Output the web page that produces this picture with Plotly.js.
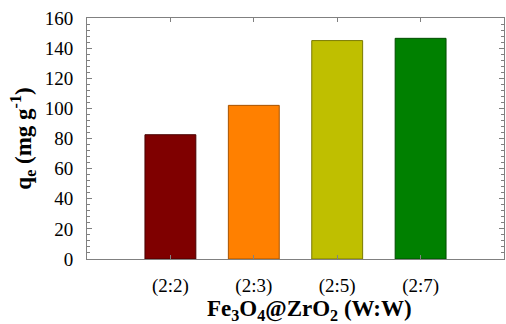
<!DOCTYPE html>
<html>
<head>
<meta charset="utf-8">
<script src="https://cdn.plot.ly/plotly-3.0.1.min.js"></script>
<style>html,body{margin:0;padding:0;background:#fff;}#chart{width:506px;height:324px;}</style>
</head>
<body>
<div id="chart"></div>
<script>
const categories = ["(2:2)", "(2:3)", "(2:5)", "(2:7)"];
const qeValues = [82.5, 102, 145, 146.5];
const barColors = ["#7f0000", "#ff8000", "#bfbf00", "#008000"];
const barEdges = ["#4a0000", "#a65300", "#7a7a00", "#004d00"];
const yTicks = [0, 20, 40, 60, 80, 100, 120, 140, 160];
const xTitle = "<b>Fe<sub>3</sub>O<sub>4</sub>@ZrO<sub>2</sub> (W:W)</b>";
const yTitle = "<b>q<sub>e</sub> (mg g<sup>-1</sup>)</b>";

const xIdx = categories.map((c, i) => i);

const trace = {
  type: "bar",
  x: xIdx,
  y: qeValues,
  width: 0.61,
  marker: {color: barColors, line: {color: barEdges, width: 1}},
  hoverinfo: "skip"
};

const fam = "'Times New Roman', 'Liberation Serif', 'DejaVu Serif', serif";

const layout = {
  width: 506, height: 324,
  margin: {l: 87, r: 2, t: 18, b: 65},
  paper_bgcolor: "#fff", plot_bgcolor: "#fff",
  showlegend: false,
  font: {family: fam, color: "#000", size: 18},
  xaxis: {
    range: [-1, 4],
    tickmode: "array", tickvals: xIdx, ticktext: categories,
    ticks: "inside", ticklen: 4, tickcolor: "#808080",
    ticklabelstandoff: 9,
    showline: true, linecolor: "#808080", linewidth: 1, mirror: "ticks",
    showgrid: false, zeroline: false,
    tickfont: {family: fam, size: 19, color: "#000"}
  },
  yaxis: {
    range: [0, 160],
    tickmode: "array", tickvals: yTicks,
    ticks: "inside", ticklen: 5, tickcolor: "#808080",
    ticklabelstandoff: 9,
    minor: {dtick: 4, ticks: "inside", ticklen: 3, tickcolor: "#808080", showgrid: false},
    showline: true, linecolor: "#808080", linewidth: 1, mirror: "ticks",
    showgrid: false, zeroline: false,
    tickfont: {family: fam, size: 19, color: "#000"},
    title: {text: yTitle, font: {family: fam, size: 23, color: "#000"}, standoff: 6}
  },
  annotations: [{
    text: xTitle, xref: "paper", yref: "paper", x: 0.534, y: -0.212,
    xanchor: "center", yanchor: "middle", showarrow: false,
    font: {family: fam, size: 23, color: "#000"}
  }]
};

Plotly.newPlot("chart", [trace], layout, {displayModeBar: false, staticPlot: true});
</script>
</body>
</html>
